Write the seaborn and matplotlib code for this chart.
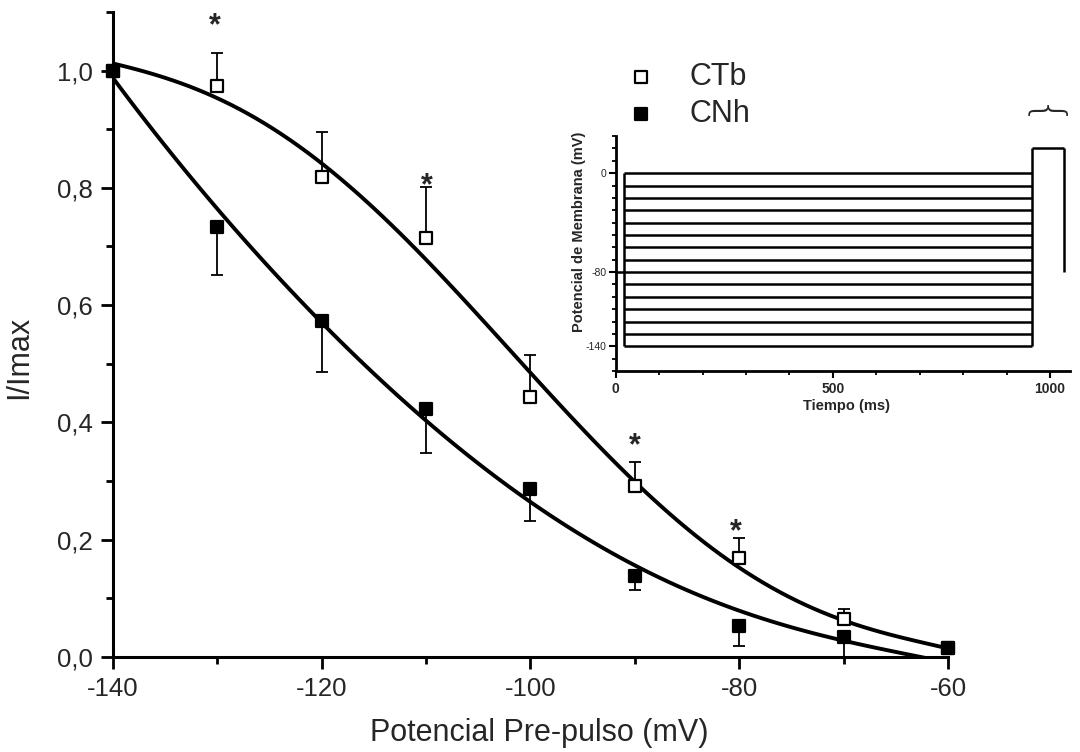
import numpy as np
import pandas as pd
import seaborn as sns
import matplotlib.pyplot as plt
from matplotlib.ticker import MultipleLocator, FuncFormatter

# Pre-pulse potentials (mV) and normalised currents
prepulse = [-140, -130, -120, -110, -100, -90, -80, -70, -60]
ctb_mean = [1.0, 0.973, 0.819, 0.714, 0.443, 0.292, 0.168, 0.064, 0.015]
ctb_err = [0.0, 0.057, 0.077, 0.088, 0.071, 0.041, 0.035, 0.018, 0.0]
cnh_mean = [1.0, 0.733, 0.572, 0.422, 0.287, 0.138, 0.053, 0.034, 0.015]
cnh_err = [0.0, 0.081, 0.086, 0.074, 0.056, 0.025, 0.035, 0.034, 0.0]

# Fitted curves, every 5 mV
fit_v = [-140, -135, -130, -125, -120, -115, -110, -105, -100,
         -95, -90, -85, -80, -75, -70, -65, -60]
ctb_fit = [1.012, 0.99, 0.952, 0.90, 0.838, 0.772, 0.69, 0.578, 0.472,
           0.385, 0.302, 0.222, 0.158, 0.097, 0.06, 0.033, 0.016]
cnh_fit = [0.988, 0.872, 0.76, 0.667, 0.573, 0.483, 0.398, 0.328, 0.267,
           0.208, 0.155, 0.113, 0.078, 0.05, 0.028, 0.008, -0.01]

# Significance marks
star_v = [-130.2, -109.9, -90.0, -80.3]
star_y = [1.088, 0.815, 0.371, 0.224]

# Inset: voltage protocol
step_levels = [0, -10, -20, -30, -40, -50, -60, -70, -80, -90, -100, -110, -120, -130, -140]
step_on = 20
step_off = 958
test_level = 20
test_off = 1032
holding = -80

sns.set_style("ticks")
plt.rcParams['font.family'] = ['Liberation Sans', 'DejaVu Sans']

fig = plt.figure(figsize=(10.8, 7.52), dpi=100)
ax = fig.add_axes([0.1046, 0.1267, 0.7732, 0.8573])

# smooth fitted curves (polynomial through the read-off points)
for yfit in [ctb_fit, cnh_fit]:
    sns.regplot(x=fit_v, y=yfit, order=5, scatter=False, ci=None, truncate=True,
                color='black', line_kws={'lw': 2.8}, ax=ax)

ax.errorbar(prepulse, ctb_mean, yerr=[np.zeros(len(ctb_err)), ctb_err], fmt='none',
            ecolor='black', elinewidth=1.3, capsize=4.5, capthick=1.3, zorder=3, clip_on=False)
ax.errorbar(prepulse, cnh_mean, yerr=[cnh_err, np.zeros(len(cnh_err))], fmt='none',
            ecolor='black', elinewidth=1.3, capsize=4.5, capthick=1.3, zorder=3, clip_on=False)

sns.scatterplot(x=prepulse, y=ctb_mean, marker='s', s=80, color='white',
                edgecolor='black', linewidth=1.6, ax=ax, zorder=5, clip_on=False, label='CTb')
sns.scatterplot(x=prepulse, y=cnh_mean, marker='s', s=80, color='black',
                edgecolor='black', linewidth=1.6, ax=ax, zorder=5, clip_on=False, label='CNh')

for sv, sy in zip(star_v, star_y):
    ax.annotate('*', (sv, sy), xytext=(0, -5), textcoords='offset points',
                ha='center', va='center', fontsize=22, fontweight='bold')

ax.set_xlim(-140, -60)
ax.set_ylim(0, 1.1)
ax.set_xticks([-140, -120, -100, -80, -60])
ax.xaxis.set_minor_locator(MultipleLocator(10))
ax.set_yticks([0.0, 0.2, 0.4, 0.6, 0.8, 1.0])
ax.yaxis.set_minor_locator(MultipleLocator(0.1))
ax.xaxis.set_major_formatter(FuncFormatter(lambda v, p: f"{v:.0f}"))
ax.yaxis.set_major_formatter(FuncFormatter(lambda v, p: f"{v:.1f}".replace('.', ',')))
ax.tick_params(which='major', direction='out', length=8.5, width=2, labelsize=18.5,
               color='black', pad=6)
ax.tick_params(which='minor', direction='out', length=5, width=2, color='black')
sns.despine(ax=ax)
for s in ['left', 'bottom']:
    ax.spines[s].set_linewidth(2.2)
    ax.spines[s].set_color('black')

ax.set_xlabel('Potencial Pre-pulso (mV)', fontsize=22, va='top')
ax.set_ylabel('I/Imax', fontsize=22)
ax.xaxis.set_label_coords(0.51, -0.095)
ax.yaxis.set_label_coords(-0.094, 0.465)

leg = ax.legend(frameon=False, fontsize=22, loc='upper left',
                bbox_to_anchor=(0.579, 0.917), bbox_transform=fig.transFigure,
                borderpad=0, borderaxespad=0, handlelength=1.0,
                handletextpad=1.1, labelspacing=0.2)

# Inset with the pulse protocol
ax_in = fig.add_axes([0.5701, 0.5066, 0.4203, 0.3124])
ax_in.set_facecolor('none')
lw_in = 1.8
ax_in.hlines(step_levels, step_on, step_off, color='black', lw=lw_in)
ax_in.vlines([step_on], min(step_levels), max(step_levels), color='black', lw=lw_in)
ax_in.vlines([step_off], min(step_levels), test_level, color='black', lw=lw_in)
ax_in.hlines([test_level], step_off, test_off, color='black', lw=lw_in)
ax_in.vlines([test_off], holding, test_level, color='black', lw=lw_in)
ax_in.hlines([holding], 0, step_on, color='black', lw=lw_in)
# brace over the test pulse
ax_in.text(step_off + 20, test_level + 25, '{', rotation=-90,
           ha='center', va='center', fontsize=30, fontweight='light',
           family='DejaVu Sans')

ax_in.set_xlim(0, 1045)
ax_in.set_ylim(-160, 30)
ax_in.set_xticks([0, 500, 1000])
ax_in.xaxis.set_minor_locator(MultipleLocator(100))
ax_in.set_yticks([0, -80, -140])
ax_in.yaxis.set_minor_locator(MultipleLocator(10))
ax_in.yaxis.set_major_formatter(FuncFormatter(lambda v, p: f"{v:.0f}"))
ax_in.tick_params(which='major', direction='out', length=5, width=1.5, color='black', pad=3)
ax_in.tick_params(which='minor', direction='out', length=3, width=1.3, color='black')
ax_in.tick_params(axis='x', labelsize=10)
ax_in.tick_params(axis='y', labelsize=7.5, pad=1.5)
for lab in ax_in.get_xticklabels():
    lab.set_fontweight('bold')
sns.despine(ax=ax_in)
for s in ['left', 'bottom']:
    ax_in.spines[s].set_linewidth(2)
    ax_in.spines[s].set_color('black')
ax_in.set_xlabel('Tiempo (ms)', fontsize=10.5, fontweight='bold', va='top')
ax_in.set_ylabel('Potencial de Membrana (mV)', fontsize=10.5, fontweight='bold')
ax_in.xaxis.set_label_coords(0.509, -0.117)
ax_in.yaxis.set_label_coords(-0.066, 0.592)

fig.savefig('out.png', dpi=100, facecolor='white')
